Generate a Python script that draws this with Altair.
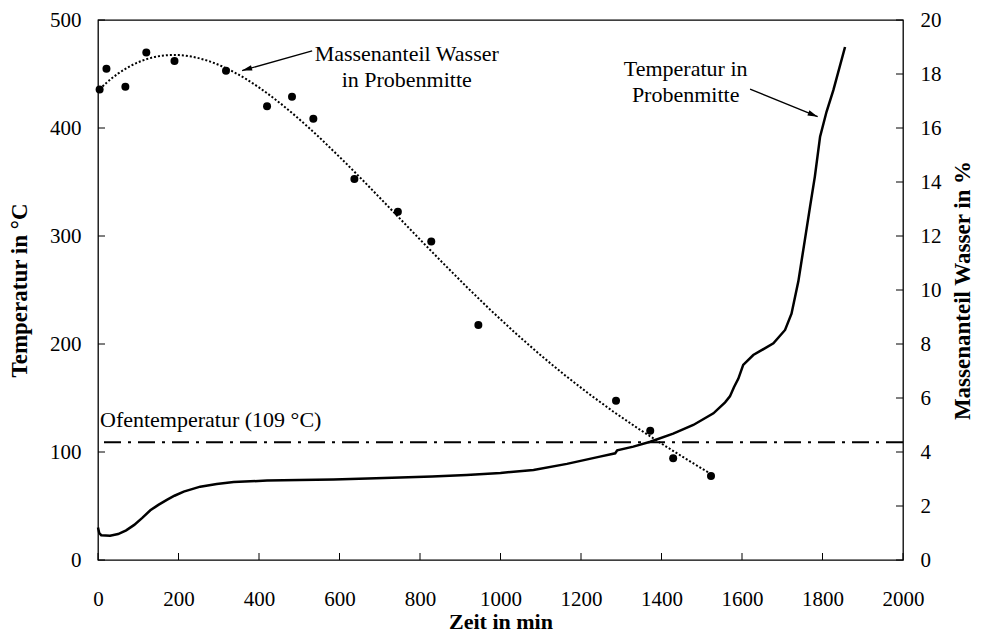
import math
import altair as alt
import pandas as pd

# --- data -------------------------------------------------------------
# temperature in the specimen centre (°C) over time (min)
temp_time = [0, 3, 8, 30, 50, 70, 90, 110, 130, 150, 171, 190, 213, 254, 295,
             337, 420, 500, 585, 670, 751, 830, 916, 1000, 1082, 1165, 1247,
             1285, 1290, 1330, 1372, 1429, 1479, 1529, 1558, 1570, 1580, 1591,
             1603, 1628, 1678, 1707, 1723, 1740, 1756, 1769, 1781, 1794, 1810,
             1827, 1856]
temp_value = [30, 25, 23, 22.5, 24, 27.5, 32.5, 39, 46, 51, 55.6, 59.5, 63.3,
              67.9, 70.4, 72.3, 73.5, 74, 74.6, 75.4, 76.4, 77.4, 78.7, 80.6,
              83.4, 89, 95.7, 98.8, 101.5, 105, 109.5, 117, 125, 135.8, 146,
              151.5, 160, 168, 180.6, 189.8, 200.6, 213, 228, 258, 296, 327,
              355, 392, 415, 435, 475]

# measured mass fraction of water in the specimen centre (%)
water_time = [4, 21, 68, 120, 190, 318, 420, 482, 535, 637, 745, 828, 945,
              1287, 1372, 1429, 1523]
water_value = [17.43, 18.19, 17.53, 18.8, 18.48, 18.12, 16.81, 17.16, 16.34,
               14.11, 12.9, 11.8, 8.7, 5.9, 4.79, 3.77, 3.11]

oven_temperature = [109]

x_ticks = list(range(0, 2001, 200))
t_ticks = list(range(0, 501, 100))
w_ticks = list(range(0, 21, 2))

# annotation texts (time, temperature, text)
label_time = [767, 767, 1460, 1460, 5]
label_temp = [462, 437.7, 448, 424, 123]
label_text = ["Massenanteil Wasser", "in Probenmitte",
              "Temperatur in", "Probenmitte", "Ofentemperatur (109 °C)"]
label_align = ["center", "center", "center", "center", "left"]

# arrows: tail (time, temperature) -> tip (time, temperature)
arrow_tail_t = [532, 1620]
arrow_tail_T = [471.3, 436]
arrow_tip_t = [358, 1788]
arrow_tip_T = [453.2, 410.5]

# --- layout -----------------------------------------------------------
W, H = 805, 540
X_MAX, T_MAX, W_MAX = 2000, 500, 20
TICK = 7
FONT = "Liberation Serif"

x_scale = alt.Scale(domain=[0, X_MAX], nice=False, zero=False)
t_scale = alt.Scale(domain=[0, T_MAX], nice=False, zero=False)
w_scale = alt.Scale(domain=[0, W_MAX], nice=False, zero=False)

temp_df = pd.DataFrame({"t": temp_time, "T": temp_value})
water_df = pd.DataFrame({"t": water_time, "w": water_value})
oven_df = pd.DataFrame({"T": oven_temperature})
label_df = pd.DataFrame({"t": label_time, "T": label_temp,
                         "text": label_text, "align": label_align})
xtick_df = pd.DataFrame({"t": x_ticks})
ttick_df = pd.DataFrame({"T": t_ticks})
wtick_df = pd.DataFrame({"w": w_ticks})

# arrowhead direction in screen space
px_t = W / X_MAX
px_T = H / T_MAX
angles = []
for a, b, c, d in zip(arrow_tail_t, arrow_tail_T, arrow_tip_t, arrow_tip_T):
    dx = (c - a) * px_t
    dy = -(d - b) * px_T
    angles.append(math.degrees(math.atan2(dx, -dy)) % 360)
arrow_df = pd.DataFrame({"t": arrow_tail_t, "T": arrow_tail_T,
                         "t2": arrow_tip_t, "T2": arrow_tip_T, "ang": angles})

x_axis = alt.Axis(title="Zeit in min", values=x_ticks, orient="bottom",
                  format="d", labelFlush=False,
                  domain=False, grid=False, ticks=False,
                  labelPadding=28, titleBaseline="alphabetic", titleY=68,
                  titleFontSize=22)
t_axis = alt.Axis(title="Temperatur in °C", values=t_ticks, orient="left",
                  format="d", labelFlush=False,
                  domain=False, grid=False, ticks=False,
                  labelPadding=17, titleAngle=270, titleAlign="center",
                  titleBaseline="alphabetic", titleX=-71.7, titleY=H / 2)
w_axis = alt.Axis(title="Massenanteil Wasser in %", values=w_ticks,
                  orient="right", format="d", labelFlush=False,
                  domain=False, grid=False, ticks=False,
                  labelPadding=17, titleAngle=270,
                  titleAlign="center", titleBaseline="alphabetic",
                  titleX=66, titleY=H / 2)


# the x scale is shared by every layer; only the temperature layer
# carries the axis definition
def X(field="t:Q"):
    return alt.X(field, scale=x_scale)


def YT(field="T:Q"):
    return alt.Y(field, scale=t_scale, axis=None)


def YW(field="w:Q"):
    return alt.Y(field, scale=w_scale, axis=None)


temp_line = alt.Chart(temp_df).mark_line(color="black", strokeWidth=2.5).encode(
    x=alt.X("t:Q", scale=x_scale, axis=x_axis),
    y=alt.Y("T:Q", scale=t_scale, axis=t_axis),
)

water_dots = alt.Chart(water_df).mark_circle(size=64, color="black", opacity=1).encode(
    x=X(), y=alt.Y("w:Q", scale=w_scale, axis=w_axis))

water_fit = alt.Chart(water_df).transform_regression(
    "t", "w", method="poly", order=4
).mark_line(color="black", strokeWidth=2, strokeDash=[2, 2]).encode(
    x=X(), y=YW())

# inward tick marks
x_tick_marks = alt.Chart(xtick_df).mark_rule(color="black", strokeWidth=1).encode(
    x=X(), y=alt.value(H - TICK), y2=alt.value(H))
t_tick_marks = alt.Chart(ttick_df).mark_rule(color="black", strokeWidth=1).encode(
    y=YT(), x=alt.value(0), x2=alt.value(TICK))
w_tick_marks = alt.Chart(wtick_df).mark_rule(color="black", strokeWidth=1).encode(
    y=YW(), x=alt.value(W - TICK), x2=alt.value(W))

oven_line = alt.Chart(oven_df).mark_rule(
    color="black", strokeWidth=2, strokeDash=[17, 7, 3, 7]
).encode(y=YT())

labels_center = alt.Chart(label_df).transform_filter(
    alt.datum.align == "center"
).mark_text(font=FONT, fontSize=22, color="black", align="center",
            baseline="alphabetic").encode(x=X(), y=YT(), text="text:N")

labels_left = alt.Chart(label_df).transform_filter(
    alt.datum.align == "left"
).mark_text(font=FONT, fontSize=22, color="black", align="left",
            baseline="alphabetic").encode(x=X(), y=YT(), text="text:N")

arrow_lines = alt.Chart(arrow_df).mark_rule(color="black", strokeWidth=1.3).encode(
    x=X(), y=YT(), x2="t2:Q", y2="T2:Q")

arrow_heads = alt.Chart(arrow_df).mark_point(
    shape="M0,0L0.55,2L-0.55,2Z", filled=True, color="black",
    opacity=1, size=100, strokeWidth=0
).encode(
    x=X("t2:Q"),
    y=YT("T2:Q"),
    angle=alt.Angle("ang:Q", scale=None),
)

chart = alt.layer(
    temp_line, water_dots, water_fit, x_tick_marks, t_tick_marks,
    w_tick_marks, oven_line, labels_center, labels_left, arrow_lines,
    arrow_heads,
).resolve_scale(y="independent").properties(
    width=W, height=H,
    autosize=alt.AutoSizeParams(type="none"),
    padding={"left": 98, "top": 20, "right": 79, "bottom": 73},
    background="white",
).configure_view(
    stroke="black", strokeWidth=1.3
).configure_axis(
    labelFont=FONT, labelFontSize=21, labelColor="black",
    titleFont=FONT, titleFontSize=23, titleFontWeight="bold",
    titleColor="black",
)

chart.save("out.html", embed_options={"renderer": "svg", "actions": False})
